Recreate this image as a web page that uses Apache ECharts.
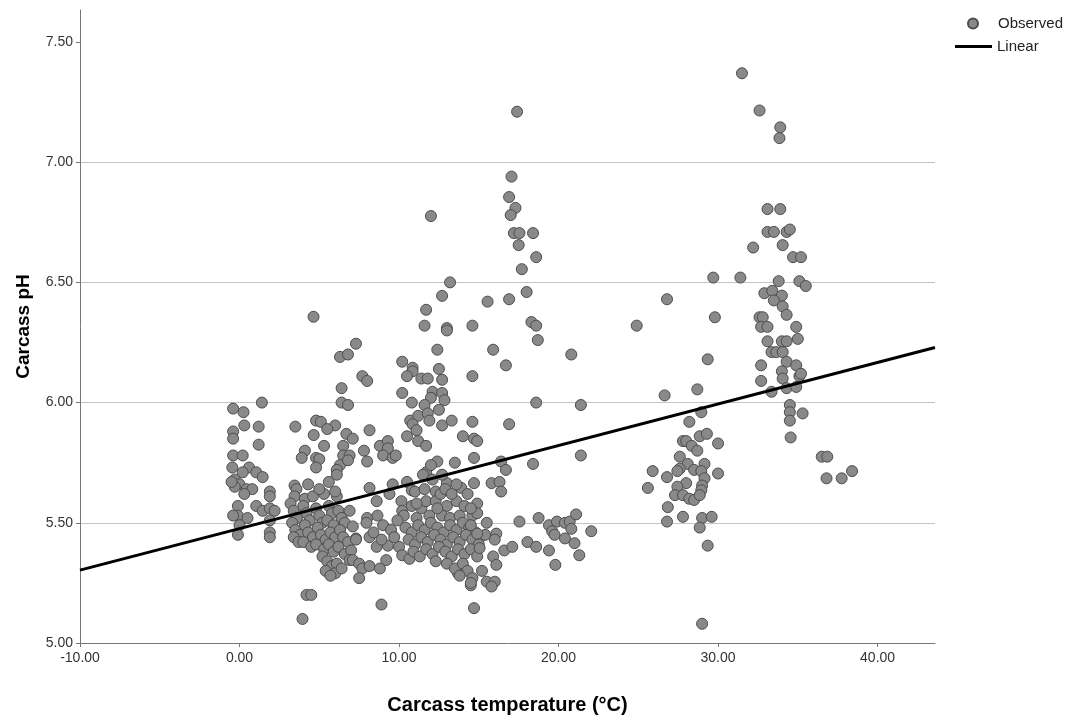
<!DOCTYPE html>
<html>
<head>
<meta charset="utf-8">
<script src="https://cdn.jsdelivr.net/npm/echarts@6/dist/echarts.min.js"></script>
<style>
html,body{margin:0;padding:0;background:#fff;}
#chart{width:1079px;height:720px;}
</style>
</head>
<body>
<div id="chart"></div>
<script>
// ---- Data ----
const xTickValues = [-10, 0, 10, 20, 30, 40];
const xTicks = ['-10.00','0.00','10.00','20.00','30.00','40.00'];
const yTickValues = [5, 5.5, 6, 6.5, 7, 7.5];
const yTicks = ['5.00','5.50','6.00','6.50','7.00','7.50'];

// Observed points: [temperature °C, pH]
const obsLeft = [
[-0.4,5.975],[0.25,5.96],[0.3,5.905],[1.2,5.90],[1.4,6.00],[-0.4,5.88],[-0.4,5.85],[1.2,5.825],[-0.4,5.78],[0.2,5.78],
[-0.45,5.73],[0.6,5.73],[0.2,5.71],[1.05,5.71],[1.45,5.69],[-0.3,5.68],[0.0,5.66],[0.45,5.64],[0.8,5.64],[-0.3,5.65],[0.3,5.62],[-0.5,5.67],
[1.9,5.63],[1.9,5.61],[-0.1,5.57],[-0.1,5.53],[-0.4,5.53],[0.0,5.49],[-0.1,5.45],[0.5,5.52],
[1.05,5.57],[1.45,5.55],[1.9,5.56],[2.2,5.55],[1.9,5.51],[1.9,5.46],[1.9,5.44]
];
const obsNear5 = [
[3.5,5.90],[4.8,5.925],[5.1,5.92],[6.0,5.905],[5.5,5.89],[4.65,5.865],[6.7,5.87],[7.1,5.85],[5.3,5.82],[4.1,5.80],[3.9,5.77],[4.8,5.77],[5.0,5.765],
[6.5,5.82],[6.5,5.78],[6.9,5.78],[6.3,5.74],[6.8,5.76],[6.1,5.72],[6.1,5.70],[4.8,5.73],
[3.45,5.655],[3.57,5.64],[3.45,5.61],[4.1,5.60],[4.6,5.61],[5.3,5.62],[6.1,5.61],
[4.64,6.357],[4.2,5.20],[4.5,5.20],[3.95,5.10],
[4.3,5.66],[5.0,5.64],[5.6,5.67],[6.0,5.63],
[6.3,6.19],[6.8,6.20],[6.4,6.06],[6.4,6.00],[6.8,5.99],
[3.2,5.58],[3.4,5.55],[3.6,5.52],[3.3,5.50],[3.5,5.47],[3.8,5.45],[3.4,5.44],[3.7,5.42],
[4.0,5.57],[4.2,5.54],[4.4,5.51],[4.1,5.49],[4.3,5.46],[4.6,5.44],[4.0,5.42],[4.5,5.40],
[4.8,5.56],[5.0,5.53],[5.2,5.50],[4.9,5.48],[5.1,5.45],[5.4,5.43],[4.8,5.41],[5.3,5.39],
[5.6,5.57],[5.8,5.54],[5.5,5.51],[5.9,5.49],[5.7,5.46],[6.0,5.44],[5.6,5.41],[5.9,5.38],
[6.2,5.55],[6.4,5.52],[6.6,5.50],[6.3,5.47],[6.5,5.44],[6.8,5.42],[6.2,5.40],[6.6,5.37],
[5.2,5.36],[5.5,5.34],[5.8,5.32],[6.1,5.33],[5.4,5.30],[6.0,5.29],[5.7,5.28],[6.4,5.31]
];
const obsMid = [
[11.6,6.32],[13.0,6.31],[13.0,6.30],[14.6,6.32],[7.3,6.245],[12.4,6.22],[10.2,6.17],[10.85,6.145],[10.85,6.13],[10.5,6.11],
[11.4,6.10],[11.8,6.10],[12.5,6.14],[12.7,6.095],[14.6,6.11],[7.7,6.11],[8.0,6.09],[10.2,6.04],[12.1,6.045],[12.7,6.04],
[12.0,6.02],[12.85,6.01],[10.8,6.00],[11.6,5.99],[12.5,5.97],[10.7,5.925],[11.2,5.945],[11.8,5.955],[11.9,5.925],[10.85,5.91],
[11.1,5.885],[12.7,5.905],[13.3,5.925],[14.6,5.92],[8.15,5.885],[10.5,5.86],[11.2,5.84],[11.7,5.82],[14.0,5.86],[14.7,5.85],
[8.8,5.82],[9.3,5.84],[9.3,5.81],[7.8,5.80],[8.0,5.755],[9.0,5.78],[9.6,5.77],[9.8,5.78],[12.4,5.755],[13.5,5.75],[11.7,5.71],
[12.0,6.776],[13.2,6.50],[12.7,6.444],[11.7,6.386]
];
const obsMidLow = [
[8.15,5.645],[9.6,5.66],[10.5,5.67],[10.8,5.635],[13.0,5.665],[13.9,5.645],[14.7,5.665],[8.6,5.59],[10.15,5.59],[10.2,5.55],
[10.8,5.57],[11.4,5.56],[11.7,5.59],[12.3,5.63],[12.3,5.59],[13.0,5.57],[13.6,5.59],[14.1,5.57],
[6.9,5.55],[7.1,5.485],[7.3,5.435],[7.0,5.385],[6.9,5.345],[8.0,5.52],[8.65,5.53],[9.0,5.49],[7.96,5.50],
[10.3,5.53],[11.1,5.52],[11.9,5.53],[12.7,5.53],[13.2,5.52],[13.8,5.53],[14.6,5.53],
[7.3,5.43],[8.15,5.44],[8.6,5.40],[9.3,5.405],[10.0,5.40],[10.2,5.365],[10.65,5.35],
[7.1,5.345],[7.5,5.33],[7.7,5.31],[8.15,5.32],[8.8,5.31],[9.2,5.345],[7.5,5.27],
[13.7,5.29],[14.5,5.24],[14.7,5.145],[8.9,5.16],
[9.4,5.62],[9.9,5.51],[9.5,5.47],[8.4,5.46],[8.9,5.43],[9.7,5.44],
[11.0,5.63],[11.6,5.64],[12.6,5.62],[12.9,5.64],[11.1,5.58],[12.4,5.56],[11.5,5.70],[12.1,5.68],[12.7,5.70],[13.3,5.62],[14.3,5.62],[12.0,5.74],[13.6,5.66],
[10.4,5.48],[10.8,5.46],[11.2,5.49],[11.6,5.47],[12.0,5.50],[12.4,5.48],[12.8,5.46],[13.2,5.49],[13.6,5.47],[14.0,5.50],[14.4,5.48],[14.8,5.46],[15.1,5.44],
[10.6,5.43],[11.0,5.41],[11.4,5.44],[11.8,5.42],[12.2,5.45],[12.6,5.43],[13.0,5.41],[13.4,5.44],[13.8,5.42],[14.2,5.45],[14.6,5.43],[15.0,5.41],
[10.9,5.38],[11.3,5.36],[11.7,5.39],[12.1,5.37],[12.5,5.40],[12.9,5.38],[13.3,5.36],[13.7,5.39],[14.1,5.37],[14.5,5.39],[14.9,5.36],
[12.3,5.34],[13.0,5.33],[13.5,5.31],[14.0,5.33],[14.3,5.30],[13.8,5.28],[14.6,5.27]
];
const obs15to22 = [
[17.4,7.21],[17.05,6.94],[16.9,6.855],[17.3,6.81],[17.0,6.78],[17.2,6.705],[17.55,6.705],[18.4,6.705],[17.5,6.655],[18.6,6.605],
[17.7,6.555],[15.55,6.42],[16.9,6.43],[18.0,6.46],
[18.3,6.335],[18.6,6.32],[18.7,6.26],[15.9,6.22],[20.8,6.20],[16.7,6.155],[18.6,6.00],[21.4,5.99],[16.9,5.91],[14.9,5.84],
[14.7,5.77],[16.4,5.755],[16.7,5.72],[18.4,5.745],[21.4,5.78],
[15.8,5.665],[16.3,5.67],[16.4,5.63],[14.9,5.58],[14.9,5.54],[14.5,5.56],[15.5,5.50],[16.1,5.455],[16.0,5.43],[15.4,5.45],
[14.9,5.455],[14.5,5.49],[17.55,5.505],[18.75,5.52],[16.6,5.385],[17.1,5.40],[18.05,5.42],[18.6,5.40],[19.4,5.385],[19.8,5.325],
[19.4,5.49],[19.9,5.505],[19.6,5.465],[19.75,5.45],[20.4,5.50],[20.7,5.505],[21.1,5.535],[20.8,5.475],[20.4,5.435],[21.0,5.415],
[21.3,5.365],[22.05,5.465],[15.05,5.395],[15.9,5.36],[16.1,5.325],[15.2,5.30],[14.5,5.25],[15.5,5.255],[16.0,5.255],[15.8,5.235]
];
const obs24to31 = [
[26.8,6.43],[24.9,6.32],[29.8,6.355],[29.35,6.18],[26.65,6.03],[28.7,6.055],[28.95,5.96],[28.2,5.92],[27.8,5.84],[28.0,5.84],
[28.85,5.86],[29.3,5.87],[30.0,5.83],[28.35,5.82],[28.7,5.80],[27.6,5.775],[29.15,5.745],[28.1,5.745],[28.5,5.72],[28.95,5.715],
[27.6,5.725],[27.45,5.715],[30.0,5.705],[25.9,5.715],[26.8,5.69],[25.6,5.645],[29.15,5.685],[29.0,5.655],[28.95,5.635],[28.0,5.665],
[27.45,5.65],[27.3,5.615],[27.8,5.615],[28.2,5.60],[28.5,5.595],[28.85,5.615],[26.85,5.565],[26.8,5.505],[27.8,5.525],[29.0,5.52],
[29.6,5.525],[28.85,5.48],[29.35,5.405],[29.0,5.08],[29.7,6.52]
];
const obs31to39 = [
[31.5,7.37],[32.6,7.215],[33.9,7.145],[33.85,7.10],[33.1,6.805],[33.9,6.805],[33.1,6.71],[33.5,6.71],[34.3,6.71],[34.5,6.72],
[32.2,6.645],[34.05,6.655],[34.7,6.605],[35.2,6.605],[31.4,6.52],[33.8,6.505],[35.1,6.505],[35.5,6.485],[32.9,6.455],[33.4,6.465],
[34.0,6.445],[33.5,6.425],[34.05,6.40],[34.3,6.365],[32.6,6.355],[32.8,6.355],[32.7,6.315],[33.1,6.315],[34.9,6.315],
[35.0,6.265],[33.1,6.255],[34.0,6.255],[34.3,6.255],[33.35,6.21],[33.65,6.21],[34.05,6.21],[32.7,6.155],[34.3,6.17],[34.9,6.155],
[34.0,6.13],[34.05,6.10],[35.1,6.11],[35.2,6.12],[32.7,6.09],[33.35,6.045],[34.3,6.06],[34.9,6.065],[34.5,5.99],[34.5,5.96],
[35.3,5.955],[34.5,5.925],[34.55,5.855],[36.5,5.775],[36.85,5.775],[36.8,5.685],[37.75,5.685],[38.4,5.715]
];

// Linear fit line end points
const fitX = [-10, 43.6];
const fitY = [5.303, 6.229];

const observed = [].concat(obsLeft, obsNear5, obsMid, obsMidLow, obs15to22, obs24to31, obs31to39);
const fitLine = fitX.map((x, i) => [x, fitY[i]]);

function labelFor(values, labels) {
  return v => { const i = values.findIndex(t => Math.abs(t - v) < 1e-6); return i >= 0 ? labels[i] : ''; };
}

const chart = echarts.init(document.getElementById('chart'), null, {renderer: 'canvas'});
const font = 'Liberation Sans, Arial, sans-serif';
chart.setOption({
  animation: false,
  backgroundColor: '#ffffff',
  grid: {left: 80, right: 144, top: 10, bottom: 75, containLabel: false},
  xAxis: {
    type: 'value', min: -10, max: 43.6, interval: 10,
    name: 'Carcass temperature (°C)', nameLocation: 'middle', nameGap: 52,
    nameTextStyle: {fontFamily: font, fontSize: 20, fontWeight: 'bold', color: '#000'},
    axisLine: {show: true, onZero: false, lineStyle: {color: '#777', width: 1}},
    axisTick: {show: true, length: 4, lineStyle: {color: '#777'}, customValues: xTickValues},
    splitLine: {show: false},
    axisLabel: {fontFamily: font, fontSize: 14, color: '#333', margin: 8,
      customValues: xTickValues, formatter: labelFor(xTickValues, xTicks)}
  },
  yAxis: {
    type: 'value', min: 5, max: 7.633, interval: 0.5,
    name: 'Carcass pH', nameLocation: 'middle', nameGap: 47, nameRotate: 90,
    nameTextStyle: {fontFamily: font, fontSize: 19, fontWeight: 'bold', color: '#000'},
    axisLine: {show: true, onZero: false, lineStyle: {color: '#777', width: 1}},
    axisTick: {show: true, length: 4, lineStyle: {color: '#777'}, customValues: yTickValues},
    splitLine: {show: true, showMinLine: false, showMaxLine: false, lineStyle: {color: '#c4c4c4', width: 1}},
    axisLabel: {fontFamily: font, fontSize: 14, color: '#333', margin: 7,
      customValues: yTickValues, formatter: labelFor(yTickValues, yTicks)}
  },
  legend: [
    {data: [{name: 'Observed', icon: 'circle'}], orient: 'vertical', left: 962, top: 11,
     itemWidth: 10, itemHeight: 10,
     textStyle: {fontFamily: font, fontSize: 15, color: '#222', padding: [0,0,0,15]}},
    {data: [{name: 'Linear', icon: 'rect'}], orient: 'vertical', left: 950, top: 34,
     itemWidth: 37, itemHeight: 3,
     textStyle: {fontFamily: font, fontSize: 15, color: '#222', padding: [0,0,0,0]}}
  ],
  series: [
    {name: 'Observed', type: 'scatter', data: observed, symbol: 'circle', symbolSize: 11,
     itemStyle: {color: '#898989', borderColor: '#4d4d4d', borderWidth: 1, opacity: 1},
     z: 2},
    {name: 'Linear', type: 'line', data: fitLine, symbol: 'none', color: '#000',
     lineStyle: {color: '#000', width: 3}, itemStyle: {color: '#000'}, z: 3, clip: true}
  ]
});
</script>
</body>
</html>
